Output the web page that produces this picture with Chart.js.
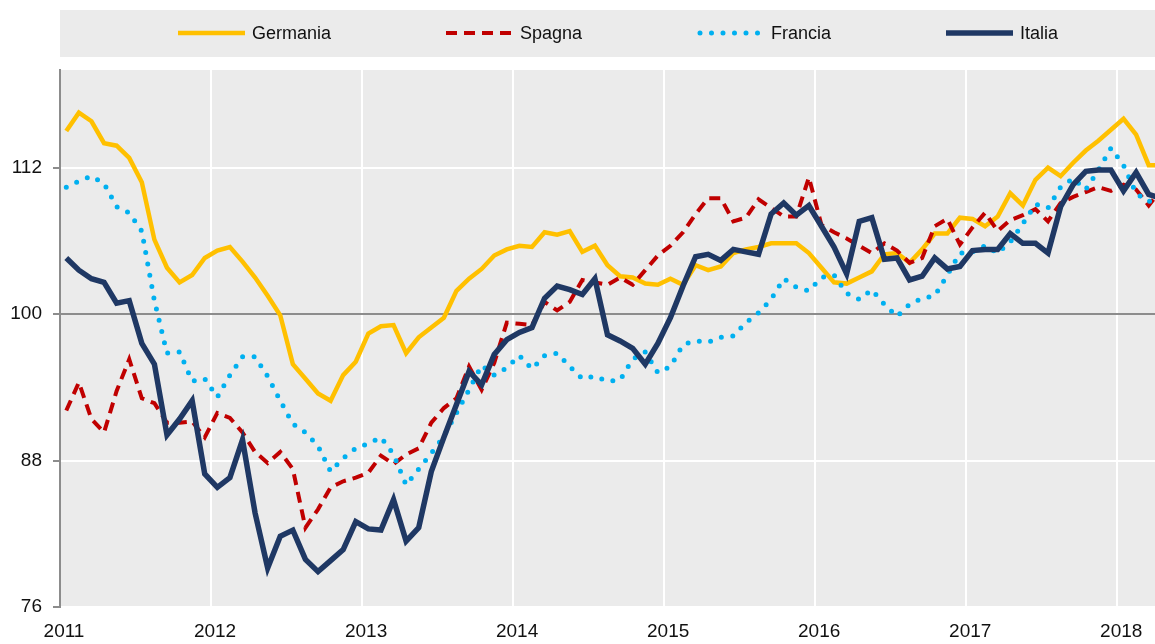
<!DOCTYPE html>
<html>
<head>
<meta charset="utf-8">
<script src="https://cdn.jsdelivr.net/npm/chart.js@4/dist/chart.umd.min.js"></script>
<style>
  html, body { margin: 0; padding: 0; background: #ffffff; }
  #wrap { width: 1155px; height: 644px; position: relative; }
</style>
</head>
<body>
<div id="wrap"><canvas id="c" width="1155" height="644"></canvas></div>
<script>
// Monthly categories, Jan 2011 .. Apr 2018
const months = [];
for (let y = 2011; y <= 2018; y++) {
  for (let m = 1; m <= 12; m++) {
    if (y === 2018 && m > 4) break;
    months.push(y + '-' + String(m).padStart(2, '0'));
  }
}
const yearTicks = [2011, 2012, 2013, 2014, 2015, 2016, 2017, 2018];
const yTicks = [76, 88, 100, 112];

const germania = [115.0,116.5,115.8,114.0,113.8,112.8,110.8,106.1,103.8,102.6,103.2,104.6,
  105.2,105.5,104.3,103.0,101.5,99.9,95.9,94.7,93.5,92.9,95.0,96.1,
  98.4,99.0,99.1,96.8,98.1,98.9,99.7,101.9,102.9,103.7,104.8,105.3,
  105.6,105.5,106.7,106.5,106.8,105.1,105.6,104.0,103.1,103.0,102.5,102.4,
  102.9,102.4,104.0,103.6,103.9,105.0,105.3,105.5,105.8,105.8,105.8,105.0,
  103.8,102.6,102.5,103.0,103.5,104.9,105.0,104.2,105.3,106.6,106.6,107.9,
  107.8,107.2,108.0,109.9,108.9,111.0,112.0,111.3,112.4,113.4,114.2,115.1,
  116.0,114.7,112.2,112.2];
const spagna = [92.1,94.4,91.4,90.3,93.7,96.3,93.1,92.7,91.1,91.1,91.2,89.9,
  91.9,91.5,90.3,88.7,87.8,88.7,87.3,82.5,84.0,85.8,86.3,86.6,
  87.0,88.4,87.7,88.5,89.0,91.1,92.3,93.1,95.7,93.8,96.0,99.3,
  99.2,99.1,101.0,100.3,101.0,102.8,102.6,102.4,103.0,102.4,103.6,104.8,
  105.6,106.7,108.2,109.5,109.5,107.6,107.9,109.4,108.7,108.0,108.0,111.2,
  107.3,106.7,106.2,105.6,105.0,105.8,105.2,104.2,104.6,107.2,107.8,105.7,
  107.1,108.3,106.8,107.7,108.1,108.6,107.6,109.1,109.6,110.0,110.4,110.1,
  110.6,110.2,108.9,110.2];
const francia = [110.4,110.9,111.3,110.7,108.8,108.3,106.8,101.1,96.8,96.9,94.5,94.7,
  93.2,95.0,96.5,96.5,94.9,92.9,91.0,90.3,89.2,87.1,88.2,89.0,
  89.4,89.9,88.5,86.0,87.3,88.6,90.0,91.9,93.8,95.8,95.0,95.6,
  96.6,95.5,96.6,96.8,95.7,94.7,94.9,94.5,94.6,96.3,96.9,95.2,
  95.7,97.5,97.8,97.7,98.1,98.2,99.3,100.1,101.2,102.9,102.2,101.9,
  103.0,103.2,101.7,101.2,102.0,100.8,99.8,100.8,101.3,101.5,103.2,105.0,
  105.1,105.6,105.0,105.9,107.4,109.0,108.7,110.4,111.1,110.2,111.8,113.6,
  112.2,109.9,109.2,110.0];
const italia = [104.6,103.6,102.9,102.6,100.9,101.1,97.6,95.9,90.1,91.4,92.9,86.9,
  85.8,86.6,89.7,83.7,79.2,81.8,82.3,79.9,78.9,79.8,80.7,83.0,
  82.4,82.3,84.8,81.4,82.5,87.1,89.9,92.6,95.3,94.2,96.7,97.9,
  98.5,98.9,101.3,102.3,102.0,101.6,102.9,98.3,97.8,97.2,95.9,97.6,
  99.7,102.3,104.7,104.9,104.4,105.3,105.1,104.9,108.2,109.1,108.1,108.9,
  107.2,105.5,103.3,107.6,107.9,104.5,104.6,102.8,103.1,104.6,103.7,103.9,
  105.2,105.3,105.3,106.6,105.8,105.8,105.0,108.8,110.6,111.7,111.8,111.8,
  110.1,111.6,109.8,109.5];

function monthToX(label) {
  const [y, m] = label.split('-').map(Number);
  return y + (m - 0.5) / 12;
}
function toPoints(arr) {
  return arr.map((v, i) => ({ x: monthToX(months[i]), y: v }));
}

const FONT = "'Liberation Sans Narrow', 'Arial Narrow', 'Liberation Sans', sans-serif";

const bgPlugin = {
  id: 'bg',
  beforeDraw(chart) {
    const { ctx, chartArea: a } = chart;
    ctx.save();
    ctx.fillStyle = '#EBEBEB';
    ctx.fillRect(a.left, a.top, a.right - a.left, a.bottom - a.top);
    ctx.restore();
  }
};

const legendPlugin = {
  id: 'customLegend',
  afterDraw(chart) {
    const ctx = chart.ctx;
    ctx.save();
    ctx.fillStyle = '#EBEBEB';
    ctx.fillRect(60, 10, 1095, 47);
    const starts = [178, 446, 697, 946];
    const cy = 33;
    chart.data.datasets.forEach((ds, i) => {
      const x0 = starts[i];
      ctx.beginPath();
      ctx.strokeStyle = ds.borderColor;
      ctx.lineWidth = ds.borderWidth;
      ctx.lineCap = ds.borderCapStyle || 'butt';
      ctx.setLineDash(ds.borderDash || []);
      if (ds.borderDash && ds.borderDash[0] === 0) {
        ctx.moveTo(x0 + 3, cy);
      } else {
        ctx.moveTo(x0, cy);
      }
      ctx.lineTo(x0 + 67, cy);
      ctx.stroke();
      ctx.setLineDash([]);
      ctx.fillStyle = '#111111';
      ctx.font = '18px ' + FONT;
      ctx.textBaseline = 'middle';
      ctx.textAlign = 'left';
      ctx.fillText(ds.label, x0 + 74, cy + 1);
    });
    ctx.restore();
  }
};

new Chart(document.getElementById('c'), {
  type: 'line',
  data: {
    datasets: [
      { label: 'Germania', data: toPoints(germania), borderColor: '#FFC000', borderWidth: 4.5,
        pointRadius: 0, tension: 0, borderCapStyle: 'butt', borderJoinStyle: 'miter', order: 4 },
      { label: 'Spagna', data: toPoints(spagna), borderColor: '#C00000', borderWidth: 4,
        borderDash: [11, 7], pointRadius: 0, tension: 0, borderCapStyle: 'butt', order: 3 },
      { label: 'Francia', data: toPoints(francia), borderColor: '#00B0F0', borderWidth: 5,
        borderDash: [0, 11.5], borderCapStyle: 'round', pointRadius: 0, tension: 0, order: 2 },
      { label: 'Italia', data: toPoints(italia), borderColor: '#1F3864', borderWidth: 5.5,
        pointRadius: 0, tension: 0, borderCapStyle: 'butt', borderJoinStyle: 'miter', order: 1 }
    ]
  },
  options: {
    responsive: false,
    animation: false,
    layout: { padding: { top: 70, left: 0, right: 0, bottom: 0 } },
    plugins: { legend: { display: false }, tooltip: { enabled: false } },
    scales: {
      x: {
        type: 'linear',
        min: 2011,
        max: 2018.25,
        afterFit(scale) { scale.height = 37; },
        afterBuildTicks(scale) { scale.ticks = yearTicks.map(v => ({ value: v })); },
        border: { display: false },
        grid: { color: '#ffffff', lineWidth: 2, drawTicks: false },
        ticks: {
          padding: 13,
          labelOffset: 4,
          maxRotation: 0,
          color: '#111111',
          font: { family: FONT, size: 19 },
          callback: v => String(v)
        }
      },
      y: {
        min: 76,
        max: 120,
        afterFit(scale) { scale.width = 60; },
        afterBuildTicks(scale) { scale.ticks = yTicks.map(v => ({ value: v })); },
        border: { display: true, color: '#8c8c8c', width: 2 },
        grid: {
          color: ctx => (ctx.tick && ctx.tick.value === 100) ? '#8c8c8c' : '#ffffff',
          lineWidth: 2,
          drawTicks: true,
          tickLength: 7,
          tickColor: '#8c8c8c'
        },
        ticks: {
          padding: 11,
          color: '#111111',
          font: { family: FONT, size: 19 },
          callback: v => String(v)
        }
      }
    }
  },
  plugins: [bgPlugin, legendPlugin]
});
</script>
</body>
</html>
